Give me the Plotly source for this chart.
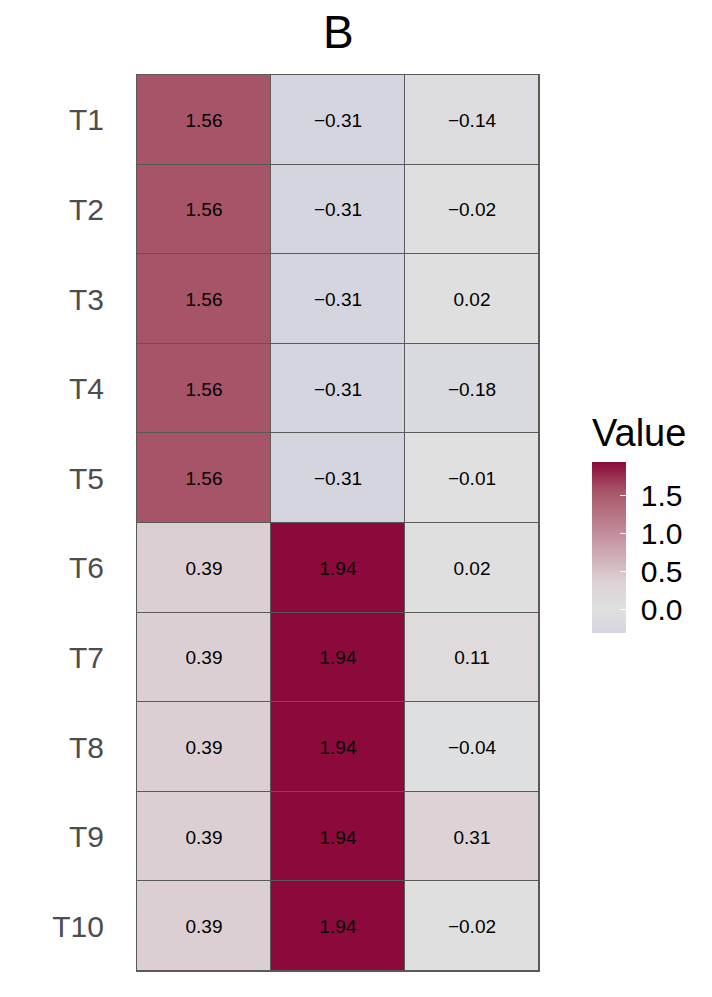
import plotly.graph_objects as go

rows = ["T1", "T2", "T3", "T4", "T5", "T6", "T7", "T8", "T9", "T10"]
cols = ["V1", "V2", "V3"]
col1 = [1.56, 1.56, 1.56, 1.56, 1.56, 0.39, 0.39, 0.39, 0.39, 0.39]
col2 = [-0.31, -0.31, -0.31, -0.31, -0.31, 1.94, 1.94, 1.94, 1.94, 1.94]
col3 = [-0.14, -0.02, 0.02, -0.18, -0.01, 0.02, 0.11, -0.04, 0.31, -0.02]
cbar_ticks = [0.0, 0.5, 1.0, 1.5]

z = [[a, b, c] for a, b, c in zip(col1, col2, col3)]


def fmt(v):
    s = f"{abs(v):.2f}"
    return ("\u2212" + s) if v < 0 else s


text = [[fmt(v) for v in row] for row in z]

zmin = min(min(col1), min(col2), min(col3))
zmax = max(max(col1), max(col2), max(col3))


def pos(v):
    return (v - zmin) / (zmax - zmin)


colorscale = [
    [0.0, "#d4d5df"],
    [pos(0.0), "#e0e0e0"],
    [pos(0.39), "#dccfd3"],
    [pos(1.0), "#c28d9b"],
    [pos(1.56), "#a85468"],
    [1.0, "#8b0a3b"],
]

FONT = "Liberation Sans, Arial, Helvetica, sans-serif"

# page body has an 8px margin; target plot area is x 137..539, y 75..971
L, R, T, B = 129, 181, 67, 34
PW = 712 - L - R
PH = 997 - T - B

fig = go.Figure(
    go.Heatmap(
        z=z,
        x=cols,
        y=rows,
        zmin=zmin,
        zmax=zmax,
        colorscale=colorscale,
        text=text,
        texttemplate="%{text}",
        textfont=dict(size=19, color="black", family=FONT),
        xgap=1,
        ygap=1,
        hoverinfo="skip",
        colorbar=dict(
            lenmode="pixels",
            len=171,
            thicknessmode="pixels",
            thickness=34,
            x=(592 - 137) / PW,
            xanchor="left",
            xpad=0,
            y=(971 - 547.5) / PH,
            yanchor="middle",
            ypad=0,
            outlinewidth=0,
            tickvals=cbar_ticks,
            ticktext=["\u00a0" + f"{t:.1f}" for t in cbar_ticks],
            ticks="inside",
            ticklen=6,
            tickwidth=1,
            tickcolor="white",
            tickfont=dict(size=30, color="black", family=FONT),
        ),
    )
)

fig.update_layout(
    width=712,
    height=997,
    margin=dict(l=L, r=R, t=T, b=B),
    paper_bgcolor="white",
    plot_bgcolor="#5a5a5a",
    font=dict(family=FONT),
    annotations=[
        dict(
            text="B",
            xref="paper",
            yref="paper",
            x=0.5,
            xanchor="center",
            y=1 + (75 - 32) / PH,
            yanchor="middle",
            showarrow=False,
            font=dict(size=46, color="black", family=FONT),
        ),
        dict(
            text="Value",
            xref="paper",
            yref="paper",
            x=(590 - 137) / PW,
            xanchor="left",
            y=(971 - 433) / PH,
            yanchor="middle",
            showarrow=False,
            font=dict(size=38, color="black", family=FONT),
        ),
    ],
)
fig.update_xaxes(
    showticklabels=False,
    ticks="",
    showgrid=False,
    zeroline=False,
    showline=True,
    linecolor="#5a5a5a",
    linewidth=1,
    mirror=True,
)
fig.update_yaxes(
    autorange="reversed",
    ticks="",
    showgrid=False,
    zeroline=False,
    showline=True,
    linecolor="#5a5a5a",
    linewidth=1,
    mirror=True,
    tickfont=dict(size=30, color="#4d4d4d", family=FONT),
    ticklabelstandoff=26,
)

fig.write_html("out.html")
